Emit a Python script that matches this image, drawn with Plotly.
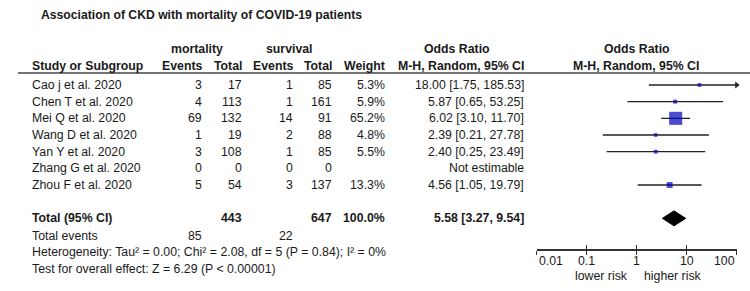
import plotly.graph_objects as go
import math

# ---------------- data ----------------
title_text = "Association of CKD with mortality of COVID-19 patients"
studies = ["Cao j et al. 2020", "Chen T et al. 2020", "Mei Q et al. 2020", "Wang D et al. 2020",
           "Yan Y et al. 2020", "Zhang G et al. 2020", "Zhou F et al. 2020"]
mort_events = [3, 4, 69, 1, 3, 0, 5]
mort_total = [17, 113, 132, 19, 108, 0, 54]
surv_events = [1, 1, 14, 2, 1, 0, 3]
surv_total = [85, 161, 91, 88, 85, 0, 137]
weights = [5.3, 5.9, 65.2, 4.8, 5.5, None, 13.3]
or_est = [18.00, 5.87, 6.02, 2.39, 2.40, None, 4.56]
or_lo = [1.75, 0.65, 3.10, 0.21, 0.25, None, 1.05]
or_hi = [185.53, 53.25, 11.70, 27.78, 23.49, None, 19.79]

total_mort_events = 85
total_mort = 443
total_surv_events = 22
total_surv = 647
total_weight = 100.0
pooled_or = 5.58
pooled_lo = 3.27
pooled_hi = 9.54

heterogeneity_text = "Heterogeneity: Tau\u00b2 = 0.00; Chi\u00b2 = 2.08, df = 5 (P = 0.84); I\u00b2 = 0%"
overall_text = "Test for overall effect: Z = 6.29 (P < 0.00001)"

tick_vals = [0.01, 0.1, 1, 10, 100]
tick_text = ["0.01", "0.1", "1", "10", "100"]
left_label = "lower risk"
right_label = "higher risk"

# ---------------- layout constants ----------------
W, H = 750, 291
FONT = "Liberation Sans, Arial, sans-serif"
TXT = "#1a1a1a"
FS = 12.3
ROW0_PX = 85.0
ROW_H = 16.67
AXIS_PX = 249.3

def p(xpx):
    return xpx / W

def row_of_px(ypx):
    return (ypx - ROW0_PX) / ROW_H

def paper_y(row):
    return 1 - (ROW0_PX + row * ROW_H) / H

X_STUDY = 30
X_ME = 204
X_MT = 243.5
X_SE = 295
X_ST = 334
X_W = 387
X_OR = 525.5

ROW_TOTAL = 8
ROW_EVENTS = 9.04
ROW_HET = 10.04
ROW_TEST = 11.02
ROW_HDR2 = -1.13
ROW_HDR1 = -2.14
ROW_TITLE = -4.2
ROW_LINE = -0.72

fig = go.Figure()

# CI lines (clipped at axis max, arrow if beyond)
xmax = tick_vals[-1]
lx, ly = [], []
ax_, ay_ = [], []
for i, (lo, hi) in enumerate(zip(or_lo, or_hi)):
    if lo is None:
        continue
    lx += [lo, min(hi, xmax), None]
    ly += [i, i, None]
    if hi > xmax:
        ax_.append(xmax)
        ay_.append(i)
fig.add_trace(go.Scatter(x=lx, y=ly, mode="lines", line=dict(color="#222222", width=1.3),
                         hoverinfo="skip", showlegend=False, cliponaxis=False))
fig.add_trace(go.Scatter(x=ax_, y=ay_, mode="markers",
                         marker=dict(symbol="triangle-right", size=6, color="#222222"),
                         hoverinfo="skip", showlegend=False, cliponaxis=False))

# squares
sx, sy, ss = [], [], []
for i, (e, w) in enumerate(zip(or_est, weights)):
    if e is None:
        continue
    sx.append(e)
    sy.append(i)
    ss.append(1.62 * math.sqrt(w))
fig.add_trace(go.Scatter(x=sx, y=sy, mode="markers",
                         marker=dict(symbol="square", size=ss, color="#0000BB", line=dict(width=0)),
                         hoverinfo="skip", showlegend=False, cliponaxis=False))

# diamond
dh = 0.45
fig.add_trace(go.Scatter(x=[pooled_lo, pooled_or, pooled_hi, pooled_or, pooled_lo],
                         y=[ROW_TOTAL, ROW_TOTAL - dh, ROW_TOTAL, ROW_TOTAL + dh, ROW_TOTAL],
                         mode="lines", fill="toself", fillcolor="#000000",
                         line=dict(color="#000000", width=1), hoverinfo="skip", showlegend=False,
                         cliponaxis=False))

# invisible trace on overlay axis (for inside ticks)
fig.add_trace(go.Scatter(x=[1], y=[0], xaxis="x2", mode="markers", marker=dict(opacity=0),
                         hoverinfo="skip", showlegend=False))

ann = []

def t(xpx, row, text, anchor="left", bold=False, size=FS):
    if bold:
        text = "<b>" + text + "</b>"
    ann.append(dict(x=p(xpx), xref="paper", y=paper_y(row), yref="paper", text=text, showarrow=False,
                    xanchor=anchor, yanchor="middle", font=dict(family=FONT, size=size, color=TXT)))

# title
t(39, ROW_TITLE, title_text, "left", bold=True, size=12.2)
# headers
t(197.5, ROW_HDR1, "mortality", "center", bold=True)
t(289.5, ROW_HDR1, "survival", "center", bold=True)
t(457, ROW_HDR1, "Odds Ratio", "center", bold=True)
t(637, ROW_HDR1, "Odds Ratio", "center", bold=True)
t(X_STUDY, ROW_HDR2, "Study or Subgroup", "left", bold=True)
t(X_ME, ROW_HDR2, "Events", "right", bold=True)
t(X_MT, ROW_HDR2, "Total", "right", bold=True)
t(X_SE, ROW_HDR2, "Events", "right", bold=True)
t(X_ST, ROW_HDR2, "Total", "right", bold=True)
t(X_W, ROW_HDR2, "Weight", "right", bold=True)
t(X_OR, ROW_HDR2, "M-H, Random, 95% CI", "right", bold=True)
t(636, ROW_HDR2, "M-H, Random, 95% CI", "center", bold=True)

# study rows
for i, s in enumerate(studies):
    t(X_STUDY, i, s)
    t(X_ME, i, str(mort_events[i]), "right")
    t(X_MT, i, str(mort_total[i]), "right")
    t(X_SE, i, str(surv_events[i]), "right")
    t(X_ST, i, str(surv_total[i]), "right")
    if weights[i] is not None:
        t(X_W, i, f"{weights[i]:.1f}%", "right")
        t(X_OR, i, f"{or_est[i]:.2f} [{or_lo[i]:.2f}, {or_hi[i]:.2f}]", "right")
    else:
        t(X_OR, i, "Not estimable", "right")

# totals
t(X_STUDY, ROW_TOTAL, "Total (95% CI)", "left", bold=True)
t(X_MT, ROW_TOTAL, str(total_mort), "right", bold=True)
t(X_ST, ROW_TOTAL, str(total_surv), "right", bold=True)
t(X_W, ROW_TOTAL, f"{total_weight:.1f}%", "right", bold=True)
t(X_OR, ROW_TOTAL, f"{pooled_or:.2f} [{pooled_lo:.2f}, {pooled_hi:.2f}]", "right", bold=True)
t(X_STUDY, ROW_EVENTS, "Total events", "left")
t(X_ME, ROW_EVENTS, str(total_mort_events), "right")
t(X_SE, ROW_EVENTS, str(total_surv_events), "right")
t(X_STUDY, ROW_HET, heterogeneity_text, "left")
t(X_STUDY, ROW_TEST, overall_text, "left")

# axis tick labels (end labels aligned inward, as in the reference)
TICK_Y = 1 - 261 / H
for k, (v, lab) in enumerate(zip(tick_vals, tick_text)):
    anchor = "left" if k == 0 else ("right" if k == len(tick_vals) - 1 else "center")
    ann.append(dict(x=math.log10(v), xref="x", y=TICK_Y, yref="paper", text=lab, showarrow=False,
                    xanchor=anchor, yanchor="middle", font=dict(family=FONT, size=FS, color=TXT)))

# favours labels
FAV_Y = 1 - 276 / H
ann.append(dict(x=0, xref="x", y=FAV_Y, yref="paper", text=left_label, showarrow=False,
                xanchor="right", yanchor="middle", xshift=-7, font=dict(family=FONT, size=FS, color=TXT)))
ann.append(dict(x=0, xref="x", y=FAV_Y, yref="paper", text=right_label, showarrow=False,
                xanchor="left", yanchor="middle", xshift=5, font=dict(family=FONT, size=FS, color=TXT)))

shapes = [
    dict(type="line", xref="paper", yref="y", x0=p(18), x1=1, y0=ROW_LINE, y1=ROW_LINE,
         line=dict(color="#444444", width=1.5)),
    dict(type="line", xref="x", yref="y", x0=0, x1=0, y0=ROW_LINE, y1=row_of_px(AXIS_PX),
         line=dict(color="#777777", width=1.2)),
]

axis_frac = (H - AXIS_PX) / H
xdom = [p(536.7), p(736.7)]
ytop = row_of_px(0)
ybot = row_of_px(AXIS_PX)

fig.update_layout(
    width=W, height=H,
    margin=dict(l=0, r=0, t=0, b=0, pad=0),
    paper_bgcolor="white", plot_bgcolor="rgba(0,0,0,0)",
    showlegend=False,
    annotations=ann, shapes=shapes,
    xaxis=dict(type="log", range=[-2, 2], domain=xdom, anchor="y",
               showline=True, linecolor="#333333", linewidth=1.6, ticks="outside", ticklen=4,
               tickwidth=1.4, tickcolor="#333333", tickvals=tick_vals, showticklabels=False,
               showgrid=False, zeroline=False, fixedrange=True, automargin=False),
    xaxis2=dict(type="log", range=[-2, 2], domain=xdom, anchor="y",
                overlaying="x", side="bottom", showline=False, ticks="inside", ticklen=4,
                tickwidth=1.4, tickcolor="#333333", tickvals=tick_vals, showticklabels=False,
                showgrid=False, zeroline=False, automargin=False),
    yaxis=dict(range=[ybot, ytop], domain=[axis_frac, 1], visible=False, showgrid=False,
               zeroline=False, fixedrange=True, automargin=False),
)

fig.write_html("out.html", config={"displayModeBar": False},
               post_script="document.body.style.margin='0';document.body.style.padding='0';")
